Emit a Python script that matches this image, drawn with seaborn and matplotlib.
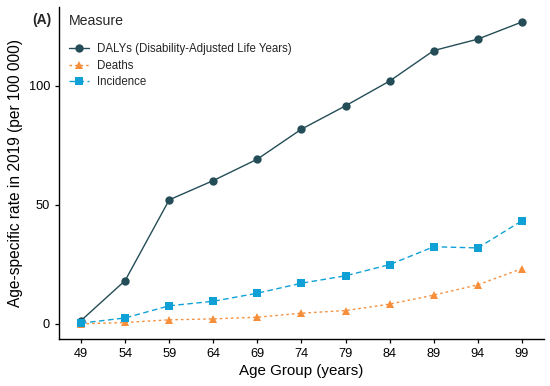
import numpy as np
import pandas as pd
import matplotlib
matplotlib.use("Agg")
import matplotlib.pyplot as plt
import seaborn as sns

age_groups = ["49", "54", "59", "64", "69", "74", "79", "84", "89", "94", "99"]
dalys = [1.4, 18.2, 52.1, 60.2, 69.2, 81.8, 91.6, 102.0, 114.8, 119.6, 126.8]
deaths = [0.0, 0.6, 1.7, 2.1, 2.8, 4.5, 5.6, 8.3, 12.1, 16.4, 23.2]
incidence = [0.3, 2.5, 7.6, 9.5, 12.9, 17.1, 20.2, 24.9, 32.4, 31.9, 43.3]
measures = ["DALYs (Disability-Adjusted Life Years)", "Deaths", "Incidence"]

df = pd.DataFrame({
    "age": age_groups * 3,
    "rate": dalys + deaths + incidence,
    "Measure": [measures[0]] * 11 + [measures[1]] * 11 + [measures[2]] * 11,
})

sns.set_theme(style="ticks")
plt.rcParams["font.family"] = ["Liberation Sans", "DejaVu Sans"]

palette = {measures[0]: "#244D57", measures[1]: "#F68E3A", measures[2]: "#0FA1D6"}
markers = {measures[0]: "o", measures[1]: "^", measures[2]: "s"}
dashes = {measures[0]: "", measures[1]: (1.8, 2.2), measures[2]: (4, 2.5)}

fig = plt.figure(figsize=(5.5, 3.86), dpi=100)
ax = fig.add_axes([0.1073, 0.1218, 0.8817, 0.8601])

sns.lineplot(data=df, x="age", y="rate", hue="Measure", style="Measure",
             palette=palette, markers=markers, dashes=dashes, ax=ax,
             linewidth=1.0, markersize=6, markeredgewidth=0, sort=False)

ax.set_xlim(-0.5, 10.5)
ax.set_ylim(-6.34, 133.1)
ax.set_yticks([0, 50, 100])
ax.set_xlabel("Age Group (years)", fontsize=10.9, color="black", labelpad=3)
ax.set_ylabel("Age-specific rate in 2019 (per 100 000)", fontsize=11.2, color="black")
ax.tick_params(axis="both", labelsize=9.2, colors="black", length=3, width=0.9)
for s in ["left", "bottom"]:
    ax.spines[s].set_linewidth(1.0)
    ax.spines[s].set_color("black")
for s in ["top", "right"]:
    ax.spines[s].set_visible(False)
ax.grid(False)

leg = ax.legend(title="Measure", loc="upper left",
                bbox_to_anchor=(69 / 550, 1 - 14 / 386), bbox_transform=fig.transFigure,
                frameon=False, fontsize=8.3, title_fontsize=10.2,
                handlelength=1.7, handletextpad=0.7, labelspacing=0.38,
                borderaxespad=0, borderpad=0)
leg._legend_box.align = "left"
leg._legend_box.sep = 11

fig.text(0.076, 1 - 20 / 386, "(A)", fontsize=10, fontweight="bold",
         ha="center", va="center")

fig.savefig("out.png", dpi=100)
